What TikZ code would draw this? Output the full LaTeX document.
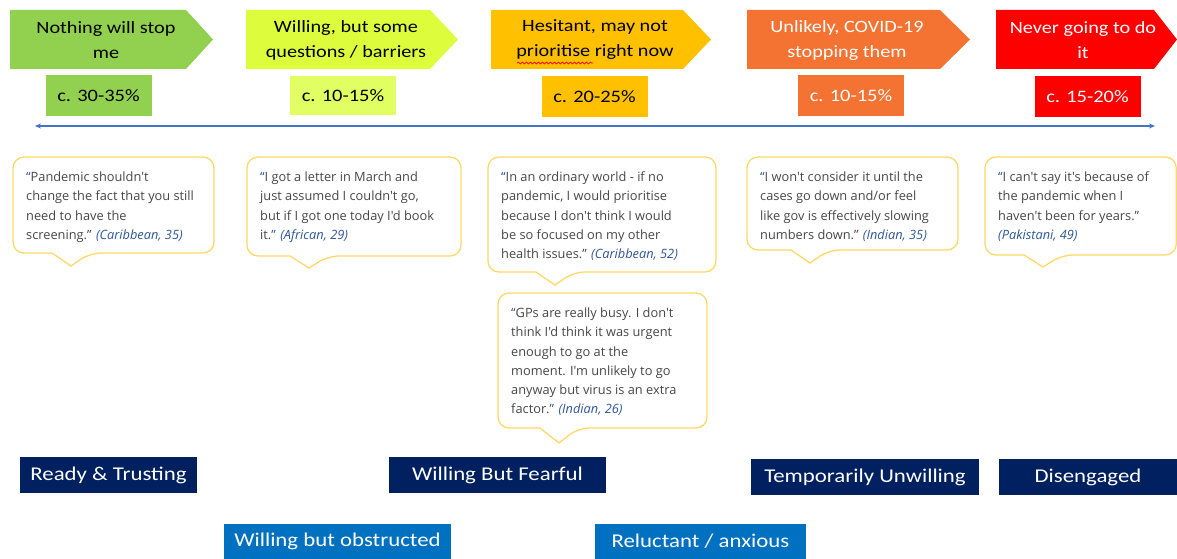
\documentclass[tikz,border=0pt]{standalone}
\usepackage{fontspec}
\setmainfont{Carlito}[FakeStretch=1.17]
\newfontfamily\quotefont{Open Sans}
\usetikzlibrary{arrows.meta,decorations.pathmorphing}
\definecolor{cgreen}{HTML}{92D050}
\definecolor{clime}{HTML}{DCFC3C}
\definecolor{climebox}{HTML}{E1FF62}
\definecolor{camber}{HTML}{FFC000}
\definecolor{corange}{HTML}{F47332}
\definecolor{cred}{HTML}{FF0000}
\definecolor{cnavy}{HTML}{002060}
\definecolor{cblue}{HTML}{0070C0}
\definecolor{cline}{HTML}{4472C4}
\definecolor{cborder}{HTML}{FFD966}
\definecolor{qgray}{HTML}{474747}
\definecolor{qblue}{HTML}{2F5597}
\tikzset{
  ptitle/.style={align=center, inner sep=0pt, font=\fontsize{17.3}{25}\selectfont},
  pctbox/.style={minimum width=106pt, minimum height=41pt, inner sep=0pt, font=\fontsize{17.5}{20}\selectfont},
  qborder/.style={draw=cborder, line width=1.3pt, fill=white},
  qtext/.style={align=left, inner sep=0pt, text=qgray, font=\quotefont\fontsize{12.8}{19.3}\selectfont},
  seglabel/.style={inner sep=0pt, text=white, font=\fontsize{19.5}{22}\selectfont},
  timeline/.style={cline, line width=1.2pt, {Stealth[length=6pt,width=5pt]}-{Stealth[length=6pt,width=5pt]}},
  spellmark/.style={red, line width=0.7pt, decorate, decoration={snake, amplitude=1pt, segment length=4pt}}
}
\newcommand{\attr}[1]{\textcolor{qblue}{\itshape #1}}
\newcommand{\oq}{\textcolor{qblue}{“}}
% name, x1, x2(body end), tip, colour, text colour, text center x, text
\newcommand{\pentagon}[8]{%
  \fill[#5] (#2,10) -- (#3,10) -- (#4,39.5) -- (#3,69) -- (#2,69) -- cycle;
  \node[ptitle, text=#6] (#1) at (#7,40) {#8};
}
% name, x1, y1, x2, y2, tipx, tipy, text
\newcommand{\qbox}[8]{%
  \draw[qborder] ({#6-19},#5) [rounded corners=11pt] -- (#2,#5) -- (#2,#3) -- (#4,#3) -- (#4,#5) -- ({#6+19},#5) [sharp corners] -- (#6,#7) -- cycle;
  \node[qtext, anchor=north west] (#1) at ({#2+13},{#3+14.5}) {#8};
}
\begin{document}
\begin{tikzpicture}[x=1pt,y=-1pt]
\useasboundingbox (0,0) rectangle (1177,559);
\fill[white] (0,0) rectangle (1177,559);

% stage arrows
\pentagon{p1}{10}{186}{213}{cgreen}{black}{106}{Nothing will stop\\me}
\pentagon{p2}{246}{430}{458}{clime}{black}{346}{Willing, but some\\questions / barriers}
\pentagon{p3}{491}{683}{711}{camber}{black}{595}{Hesitant, may not\\prioritise right now}
\pentagon{p4}{747}{940}{970}{corange}{white}{847}{Unlikely, COVID-19\\stopping them}
\pentagon{p5}{996}{1154}{1177}{cred}{white}{1083}{Never going to do\\it}
\coordinate (sq1) at (517,63);
\coordinate (sq2) at (593,63);
\draw[spellmark] (sq1) -- (sq2);

% percentages
\node[pctbox, fill=cgreen] (c1) at (98.5,96) {c. 30-35\%};
\node[pctbox, fill=climebox, minimum height=39pt] (c2) at (343,95.5) {c. 10-15\%};
\node[pctbox, fill=camber] (c3) at (594.5,97) {c. 20-25\%};
\node[pctbox, fill=corange, text=white] (c4) at (851,96) {c. 10-15\%};
\node[pctbox, fill=cred, text=white] (c5) at (1087.5,97) {c. 15-20\%};

% timeline
\coordinate (tl) at (35,126);
\coordinate (tr) at (1155,126);
\draw[timeline] (tl) -- (tr);

% quotes
\qbox{q1}{13}{157}{214}{253}{71}{266}{\oq Pandemic shouldn't\\change the fact that you still\\need to have the\\screening.” \attr{(Caribbean, 35)}}
\qbox{q2}{247}{157}{461}{256}{309}{268}{\oq I got a letter in March and\\just assumed I couldn't go,\\but if I got one today I'd book\\it.\textcolor{qblue}{”} \attr{(African, 29)}}
\qbox{q3}{488}{157}{716}{272}{555}{285}{\oq In an ordinary world - if no\\pandemic, I would prioritise\\because I don't think I would\\be so focused on my other\\health issues.” \attr{(Caribbean, 52)}}
\qbox{q4}{498}{293}{707}{428}{559}{443}{\oq GPs are really busy. I don't\\think I'd think it was urgent\\enough to go at the\\moment. I'm unlikely to go\\anyway but virus is an extra\\factor.\textcolor{qblue}{”} \attr{(Indian, 26)}}
\qbox{q5}{747}{157}{958}{250}{810}{263}{\oq I won't consider it until the\\cases go down and/or feel\\like gov is effectively slowing\\numbers down.” \attr{(Indian, 35)}}
\qbox{q6}{985}{157}{1176.3}{255}{1043}{267}{\oq I can't say it's because of\\the pandemic when I\\haven't been for years.”\\\attr{(Pakistani, 49)}}

% segment labels
\node[seglabel, fill=cnavy, minimum width=177pt, minimum height=36pt] (s1) at (108.5,475) {Ready \& Trusting};
\node[seglabel, fill=cnavy, minimum width=217pt, minimum height=36pt] (s2) at (497.5,475) {Willing But Fearful};
\node[seglabel, fill=cnavy, minimum width=228pt, minimum height=36pt] (s3) at (865,477) {Temporarily Unwilling};
\node[seglabel, fill=cnavy, minimum width=178pt, minimum height=36pt] (s4) at (1088,477) {Disengaged};
\node[seglabel, fill=cblue, minimum width=227pt, minimum height=35pt] (s5) at (337.5,541.5) {Willing but obstructed};
\node[seglabel, fill=cblue, minimum width=211pt, minimum height=35pt] (s6) at (700.5,541.5) {Reluctant / anxious};
\end{tikzpicture}
\end{document}
